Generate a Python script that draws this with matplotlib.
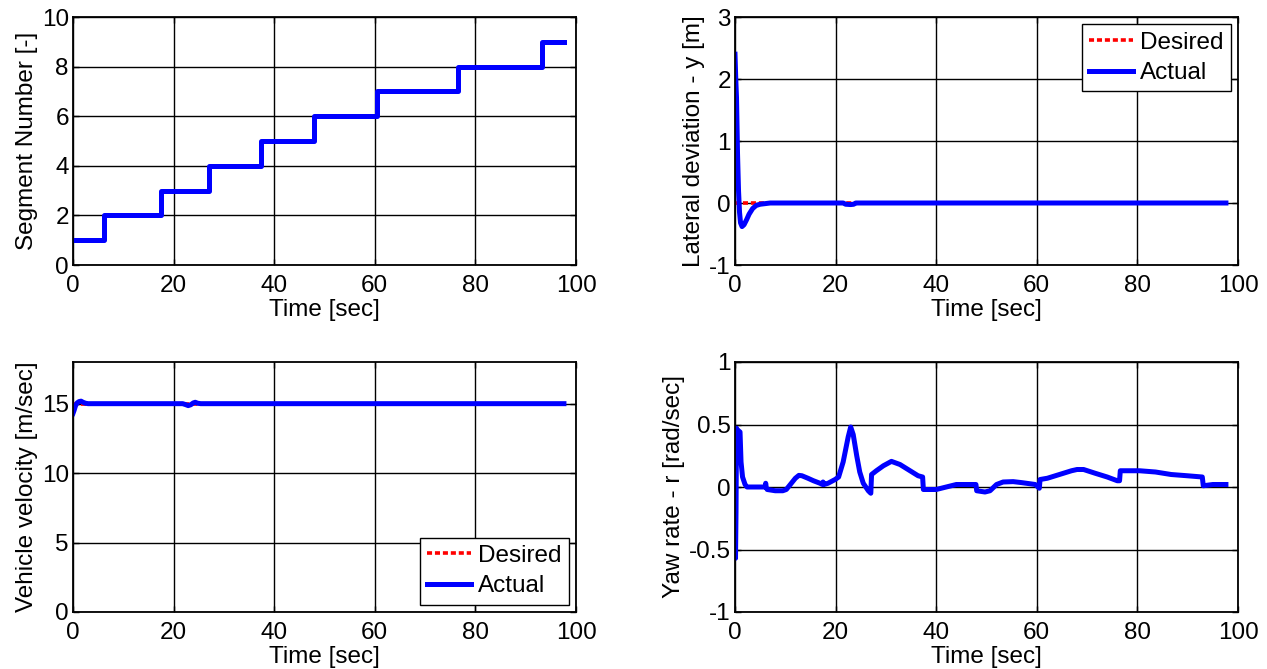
import matplotlib
matplotlib.use("Agg")
import matplotlib.pyplot as plt
import numpy as np

plt.rcParams['font.family'] = ['Liberation Sans', 'DejaVu Sans']
plt.rcParams['font.size'] = 17.5
plt.rcParams['axes.unicode_minus'] = False

# ---------------- data ----------------
seg_time = [0, 6.1, 17.5, 27.0, 37.4, 47.9, 60.5, 76.6, 93.3, 97.6]
seg_value = [1, 2, 3, 4, 5, 6, 7, 8, 9, 9]

lat_time = [0, 0.15, 0.3, 0.5, 0.7, 0.9, 1.1, 1.4, 1.8, 2.3, 2.8, 3.5, 4.2, 5.0, 6.0, 7.0,
            21.5, 22.0, 23.0, 23.6, 24.0, 48.0, 97.6]
lat_actual = [2.4, 2.0, 1.7, 0.8, 0.2, -0.15, -0.32, -0.38, -0.35, -0.27, -0.18, -0.09, -0.04,
              -0.02, -0.01, 0.0, 0.0, -0.02, -0.025, -0.02, 0.0, 0.0, 0.0]
lat_desired_time = [0, 97.6]
lat_desired = [0, 0]

vel_time = [0, 0.2, 0.5, 0.8, 1.2, 1.6, 2.0, 2.5, 3.0, 21.8, 22.4, 22.9, 23.4, 23.9, 24.3,
            24.8, 25.4, 97.6]
vel_actual = [14.3, 14.5, 14.85, 15.05, 15.15, 15.18, 15.1, 15.03, 15.0, 15.0, 14.93, 14.86,
              14.92, 15.05, 15.1, 15.03, 15.0, 15.0]
vel_desired_time = [0, 97.6]
vel_desired = [15, 15]

yaw_time = [0, 0.1, 0.2, 0.3, 0.45, 0.7, 1.0, 1.2, 1.5, 2.0, 2.4, 6.0, 6.1, 6.2, 6.4, 8.0, 9.5,
            10.2, 11.0, 12.0, 12.7, 13.3, 14.5, 15.6, 16.9, 17.4, 17.5, 17.7, 18.5, 19.9, 20.6,
            21.5, 22.5, 23.0, 23.5, 24.2, 24.8, 25.5, 26.5, 27.0, 27.15, 28.1, 29.5, 31.1, 32.8,
            34.8, 36.4, 37.3, 37.45, 40.0, 42.0, 44.0, 47.9, 48.05, 49.7, 50.7, 52.0, 53.3,
            55.3, 57.0, 59.7, 60.5, 60.65, 62.1, 64.5, 66.9, 68.0, 69.3, 71.6, 74.0, 76.0,
            76.45, 76.6, 80.4, 83.6, 86.7, 89.9, 92.9, 93.1, 95.0, 97.6]
yaw_actual = [0.0, -0.57, -0.2, 0.47, 0.46, 0.45, 0.44, 0.2, 0.08, 0.02, 0.0, 0.0, 0.03, 0.0,
              -0.02, -0.03, -0.03, -0.02, 0.02, 0.07, 0.093, 0.09, 0.07, 0.05, 0.03, 0.02, 0.04,
              0.02, 0.03, 0.06, 0.08, 0.2, 0.4, 0.48, 0.42, 0.25, 0.12, 0.03, -0.03, -0.05, 0.1,
              0.13, 0.17, 0.205, 0.18, 0.13, 0.09, 0.08, -0.02, -0.02, 0.0, 0.02, 0.02, -0.03,
              -0.04, -0.03, 0.02, 0.04, 0.043, 0.035, 0.02, -0.01, 0.06, 0.07, 0.1, 0.13, 0.14,
              0.14, 0.11, 0.08, 0.05, 0.05, 0.13, 0.13, 0.12, 0.1, 0.09, 0.08, 0.01, 0.02, 0.02]

# ---------------- figure ----------------
fig = plt.figure(figsize=(12.67, 6.69), dpi=100)
W, H = 1267, 669
def box(l, r, t, b):
    return [l / W, 1 - b / H, (r - l) / W, (b - t) / H]

ax1 = fig.add_axes(box(73, 576, 17, 265))
ax2 = fig.add_axes(box(735, 1238, 17, 265))
ax3 = fig.add_axes(box(73, 576, 362, 612))
ax4 = fig.add_axes(box(735, 1238, 362, 612))

blue = '#0000ff'
red = '#ff0000'
lw = 3.6
dash = (0, (1.4, 0.8))

legend_kw = dict(fancybox=False, edgecolor='black', framealpha=1,
                 handlelength=1.8, borderaxespad=0.3, borderpad=0.3, labelspacing=0.35,
                 handletextpad=0.3, fontsize=17.5)

ax1.step(seg_time, seg_value, where='post', color=blue, lw=lw)
ax1.set_ylim(0, 10)
ax1.set_yticks([0, 2, 4, 6, 8, 10])
ax1.set_ylabel('Segment Number [-]')

ax2.plot(lat_desired_time, lat_desired, color=red, lw=2.6, ls=dash, label='Desired')
ax2.plot(lat_time, lat_actual, color=blue, lw=lw, label='Actual')
ax2.set_ylim(-1, 3)
ax2.set_yticks([-1, 0, 1, 2, 3])
ax2.set_ylabel('Lateral deviation - y [m]')
ax2.legend(loc='upper right', **legend_kw).get_frame().set_linewidth(1.0)

ax3.plot(vel_desired_time, vel_desired, color=red, lw=2.6, ls=dash, label='Desired')
ax3.plot(vel_time, vel_actual, color=blue, lw=lw, label='Actual')
ax3.set_ylim(0, 18)
ax3.set_yticks([0, 5, 10, 15])
ax3.set_ylabel('Vehicle velocity [m/sec]')
ax3.legend(loc='lower right', **legend_kw).get_frame().set_linewidth(1.0)

ax4.plot(yaw_time, yaw_actual, color=blue, lw=lw)
ax4.set_ylim(-1, 1)
ax4.set_yticks([-1, -0.5, 0, 0.5, 1])
ax4.set_yticklabels(['-1', '-0.5', '0', '0.5', '1'])
ax4.set_ylabel('Yaw rate - r [rad/sec]')

for ax in (ax1, ax2, ax3, ax4):
    ax.set_xlim(0, 100)
    ax.set_xticks([0, 20, 40, 60, 80, 100])
    ax.set_xlabel('Time [sec]', labelpad=1.5)
    ax.grid(True, color='black', lw=1.0, ls='-')
    ax.set_axisbelow(True)
    ax.tick_params(direction='in', length=4, width=1, labelsize=17.5,
                   top=True, right=True)
    ax.tick_params(axis='x', pad=7)
    ax.tick_params(axis='y', pad=3)
    for s in ax.spines.values():
        s.set_linewidth(1.3)
    ax.yaxis.labelpad = 3

fig.savefig('out.png', dpi=100)
